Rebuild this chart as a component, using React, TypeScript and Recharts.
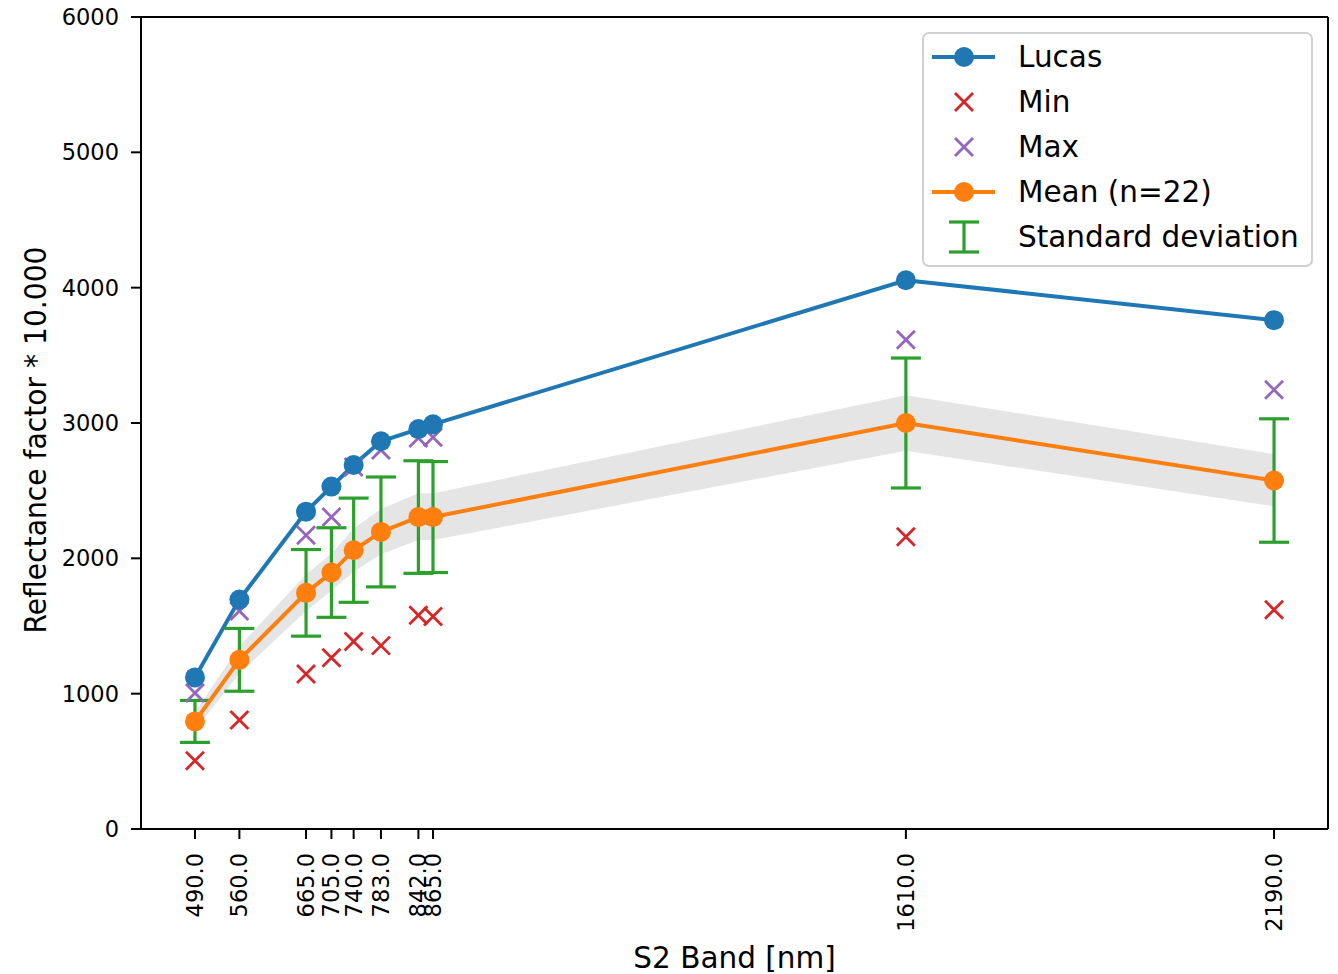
import React from 'react';
import {
  ComposedChart,
  Line,
  Area,
  Scatter,
  ErrorBar,
  XAxis,
  YAxis,
  ReferenceLine,
  Legend,
} from 'recharts';

// S2 band centre wavelengths (nm)
const bands = [490, 560, 665, 705, 740, 783, 842, 865, 1610, 2190];
const lucasVals = [1120, 1695, 2345, 2530, 2690, 2865, 2955, 2990, 4055, 3760];
const minVals = [505, 805, 1145, 1265, 1385, 1355, 1580, 1570, 2160, 1620];
const maxVals = [1005, 1610, 2170, 2305, 2675, 2800, 2890, 2895, 3615, 3245];
const meanVals = [795, 1250, 1745, 1895, 2060, 2195, 2305, 2305, 3000, 2575];
const stdVals = [155, 232, 320, 331, 385, 406, 416, 410, 480, 456];
const bandLow = [730, 1150, 1610, 1760, 1900, 2030, 2135, 2135, 2795, 2385];
const bandHigh = [860, 1350, 1880, 2035, 2220, 2365, 2480, 2480, 3205, 2770];
const yTicks = [0, 1000, 2000, 3000, 4000, 5000, 6000];

const data = bands.map((b, i) => ({
  band: b,
  lucas: lucasVals[i],
  min: minVals[i],
  max: maxVals[i],
  mean: meanVals[i],
  std: stdVals[i],
  ci: [bandLow[i], bandHigh[i]],
}));

const BLUE = '#1f77b4';
const ORANGE = '#ff7f0e';
const GREEN = '#2ca02c';
const RED = '#d62728';
const PURPLE = '#9467bd';
const FONT = 'DejaVu Sans';

const Cross = ({ cx, cy, color }: any) => {
  const s = 9;
  return (
    <g stroke={color} strokeWidth={2.8}>
      <line x1={cx - s} y1={cy - s} x2={cx + s} y2={cy + s} />
      <line x1={cx - s} y1={cy + s} x2={cx + s} y2={cy - s} />
    </g>
  );
};

const XTick = ({ x, y, payload }: any) => (
  <text
    x={x}
    y={y}
    transform={`rotate(-90, ${x}, ${y})`}
    textAnchor="end"
    dominantBaseline="central"
    fontSize={22.5}
    fontFamily={FONT}
    fill="#000"
  >
    {Number(payload.value).toFixed(1)}
  </text>
);

const YTick = ({ x, y, payload }: any) => (
  <text x={x} y={y} textAnchor="end" dominantBaseline="central" fontSize={22.5} fontFamily={FONT} fill="#000">
    {payload.value}
  </text>
);

const YLabel = () => (
  <text
    x={38}
    y={440}
    transform="rotate(-90, 38, 440)"
    textAnchor="middle"
    fontSize={30}
    fontFamily={FONT}
    textLength={387}
    lengthAdjust="spacingAndGlyphs"
    fill="#000"
  >
    Reflectance factor * 10.000
  </text>
);

const rows = [
  { name: 'Lucas', kind: 'line', color: BLUE },
  { name: 'Min', kind: 'x', color: RED },
  { name: 'Max', kind: 'x', color: PURPLE },
  { name: 'Mean (n=22)', kind: 'line', color: ORANGE },
  { name: 'Standard deviation', kind: 'err', color: GREEN },
];

const LegendBox = () => (
  <svg width={392} height={236}>
    <rect x={1} y={1} width={389} height={233} rx={6} fill="#fff" fillOpacity={0.85} stroke="#d0d0d0" strokeWidth={2} />
    {rows.map((r, i) => {
      const cy = 25 + i * 45;
      return (
        <g key={r.name}>
          {r.kind === 'line' && (
            <g>
              <line x1={10} y1={cy} x2={73} y2={cy} stroke={r.color} strokeWidth={4} />
              <circle cx={42} cy={cy} r={10} fill={r.color} />
            </g>
          )}
          {r.kind === 'x' && <Cross cx={42} cy={cy} color={r.color} />}
          {r.kind === 'err' && (
            <g stroke={r.color} strokeWidth={3.2}>
              <line x1={42} y1={cy - 15} x2={42} y2={cy + 15} />
              <line x1={27} y1={cy - 15} x2={57} y2={cy - 15} />
              <line x1={27} y1={cy + 15} x2={57} y2={cy + 15} />
            </g>
          )}
          <text x={96} y={cy} dominantBaseline="central" fontSize={29.5} fontFamily={FONT} fill="#000">
            {r.name}
          </text>
        </g>
      );
    })}
  </svg>
);

export default function App() {
  return (
    <div style={{ width: 1330, height: 974, marginTop: -8, background: '#fff' }}>
      <ComposedChart
        width={1330}
        height={974}
        data={data}
        margin={{ top: 17, right: 10, left: 53, bottom: 0 }}
      >
        <XAxis
          dataKey="band"
          type="number"
          domain={[405, 2275]}
          ticks={bands}
          interval={0}
          tick={<XTick />}
          tickSize={10}
          tickMargin={14}
          height={145}
          stroke="#000"
          strokeWidth={2}
          tickLine={{ stroke: '#000', strokeWidth: 2 }}
          label={{ value: 'S2 Band [nm]', position: 'insideBottom', offset: 6, fontSize: 29.5, fontFamily: FONT, fill: '#000' }}
        />
        <YAxis
          type="number"
          domain={[0, 6000]}
          ticks={yTicks}
          width={80}
          tickSize={10}
          tickMargin={12}
          stroke="#000"
          strokeWidth={2}
          tick={<YTick />}
          tickLine={{ stroke: '#000', strokeWidth: 2 }}
          label={<YLabel />}
        />
        <ReferenceLine y={6000} stroke="#000" strokeWidth={2} />
        <ReferenceLine x={2275} stroke="#000" strokeWidth={2} />
        <Area
          dataKey="ci"
          type="linear"
          fill="#e5e5e5"
          fillOpacity={1}
          stroke="none"
          isAnimationActive={false}
        />
        <Line
          dataKey="lucas"
          type="linear"
          stroke={BLUE}
          strokeWidth={4}
          dot={{ r: 10, fill: BLUE, stroke: BLUE, strokeWidth: 0 }}
          isAnimationActive={false}
        />
        <Scatter dataKey="min" shape={(p: any) => <Cross cx={p.cx} cy={p.cy} color={RED} />} isAnimationActive={false} />
        <Scatter dataKey="max" shape={(p: any) => <Cross cx={p.cx} cy={p.cy} color={PURPLE} />} isAnimationActive={false} />
        <Line
          dataKey="mean"
          type="linear"
          stroke={ORANGE}
          strokeWidth={4}
          dot={{ r: 10, fill: ORANGE, stroke: ORANGE, strokeWidth: 0 }}
          isAnimationActive={false}
        >
          <ErrorBar dataKey="std" direction="y" width={15} strokeWidth={3.2} stroke={GREEN} />
        </Line>
        <Legend
          layout="horizontal"
          verticalAlign="middle"
          align="center"
          content={<LegendBox />}
          wrapperStyle={{ position: 'absolute', left: 914, top: 32, width: 392, height: 236 }}
        />
      </ComposedChart>
    </div>
  );
}
